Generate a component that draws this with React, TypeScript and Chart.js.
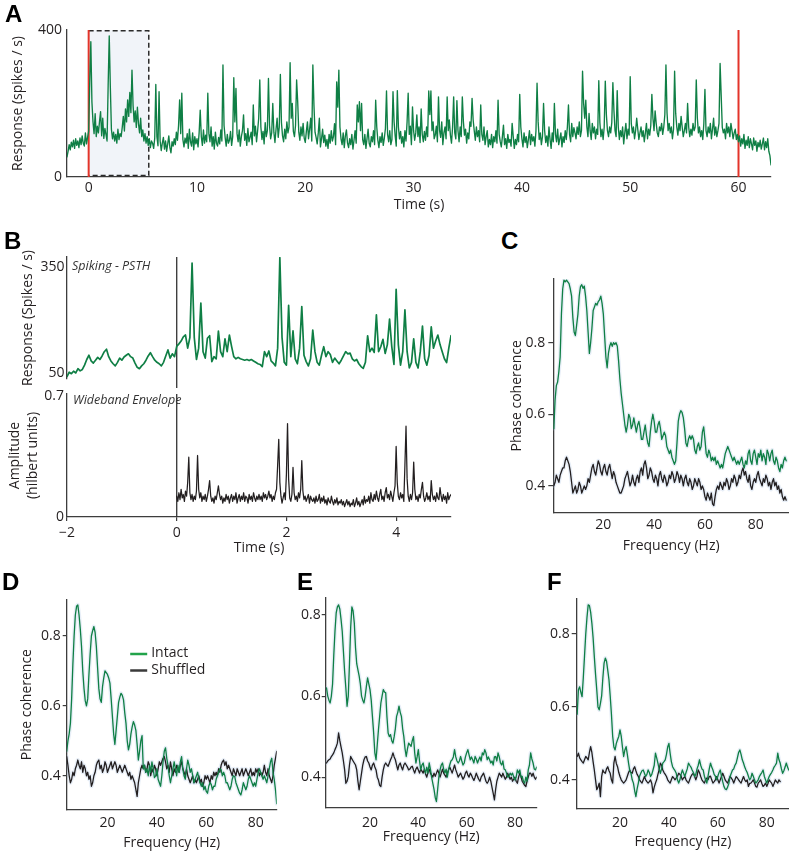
import React, { useEffect, useRef } from 'react';
import { Chart, registerables } from 'chart.js';

Chart.register(...registerables);

const FONT = "'Open Sans', 'Noto Sans', 'DejaVu Sans', sans-serif";
const FS = 14;
const INK = '#231f20';
const AXIS = '#3d3d3d';
const GREEN = '#0f7f45';
const BLACK = '#231f20';
const RED = '#e3342a';
const HALO = 'rgba(170,195,225,0.28)';
const LEGEND_COLORS: Record<string, string> = { Intact: '#22a34a', Shuffled: '#3a3a3a' };

Chart.defaults.font.family = FONT;
Chart.defaults.color = INK;

// ---------------- Panel A : full-trial PSTH ----------------
const A_START = -2;
const A_STEP = 0.1;
const A_RESPONSE = [
  55, 70, 88, 74, 95, 82, 100, 78, 104, 86,
  98, 80, 106, 88, 112, 92, 84, 120, 90, 108,
  125, 260, 368, 205, 150, 118, 172, 110, 138, 120,
  150, 178, 112, 160, 105, 132, 115, 98, 250, 384,
  246, 130, 104, 122, 98, 116, 92, 130, 102, 118,
  110, 135, 165, 125, 185, 150, 210, 165, 230, 175,
  291, 195, 150, 180, 135, 190, 145, 120, 160, 110,
  128, 98, 118, 92, 110, 86, 104, 80, 98, 92,
  78, 105, 252, 110, 85, 232, 98, 72, 92, 108,
  76, 98, 70, 90, 112, 80, 66, 96, 84, 104,
  88, 122, 100, 140, 210, 118, 228, 102, 82, 106,
  92, 118, 78, 130, 96, 84, 120, 74, 110, 90,
  104, 82, 120, 182, 110, 86, 128, 92, 114, 96,
  228, 118, 96, 136, 84, 110, 76, 122, 92, 84,
  108, 90, 128, 98, 305, 140, 108, 84, 116, 92,
  100, 124, 86, 110, 270, 150, 241, 118, 96, 128,
  84, 110, 126, 169, 100, 118, 86, 132, 96, 108,
  122, 88, 196, 112, 138, 96, 126, 160, 264, 136,
  102, 124, 90, 148, 110, 126, 268, 140, 104, 120,
  200, 122, 94, 130, 160, 108, 136, 279, 148, 112,
  96, 130, 104, 150, 120, 136, 311, 160, 200, 124,
  110, 140, 264, 205, 122, 100, 136, 112, 146, 106,
  94, 124, 150, 104, 130, 160, 98, 305, 196, 122,
  108, 90, 120, 160, 82, 104, 130, 94, 114, 84,
  102, 78, 116, 92, 126, 98, 110, 145, 88, 259,
  190, 291, 136, 104, 88, 120, 80, 112, 128, 92,
  80, 104, 88, 116, 76, 100, 126, 92, 196, 150,
  205, 126, 200, 102, 88, 116, 78, 104, 130, 92,
  82, 110, 96, 126, 88, 209, 136, 100, 80, 110,
  94, 120, 86, 106, 132, 234, 116, 96, 126, 88,
  102, 232, 150, 112, 84, 235, 136, 104, 124, 92,
  110, 82, 126, 98, 150, 228, 116, 138, 88, 191,
  126, 100, 120, 169, 110, 136, 94, 185, 116, 96,
  124, 100, 136, 110, 234, 170, 234, 126, 150, 104,
  114, 138, 96, 218, 126, 108, 150, 88, 120, 136,
  104, 218, 126, 155, 114, 92, 136, 218, 120, 104,
  208, 126, 96, 136, 110, 218, 150, 114, 130, 92,
  120, 104, 150, 138, 214, 155, 126, 100, 136, 110,
  126, 96, 196, 116, 100, 136, 88, 110, 126, 82,
  102, 88, 116, 80, 110, 96, 126, 92, 209, 116,
  96, 82, 110, 141, 88, 104, 78, 116, 94, 102,
  84, 146, 110, 78, 102, 88, 116, 96, 225, 136,
  104, 82, 120, 94, 110, 80, 102, 126, 88, 116,
  98, 110, 84, 126, 255, 150, 102, 120, 88, 110,
  200, 126, 94, 112, 84, 136, 102, 78, 120, 96,
  200, 116, 96, 130, 88, 104, 120, 82, 110, 94,
  126, 102, 136, 196, 116, 96, 146, 110, 134, 120,
  104, 136, 116, 150, 110, 126, 288, 200, 160, 209,
  136, 110, 173, 126, 102, 146, 120, 136, 104, 130,
  116, 262, 148, 110, 130, 102, 136, 261, 170, 126,
  110, 136, 120, 148, 257, 180, 126, 110, 235, 136,
  102, 126, 110, 136, 90, 120, 146, 104, 130, 114,
  273, 146, 120, 136, 104, 126, 160, 130, 102, 120,
  136, 110, 126, 96, 120, 146, 104, 130, 114, 140,
  225, 160, 126, 180, 146, 120, 110, 136, 126, 146,
  116, 136, 170, 305, 175, 126, 146, 120, 136, 104,
  130, 288, 173, 136, 114, 146, 126, 165, 136, 110,
  126, 146, 120, 200, 136, 110, 130, 114, 146, 126,
  136, 264, 160, 120, 136, 110, 126, 102, 146, 238,
  126, 110, 136, 120, 146, 104, 130, 160, 114, 136,
  110, 126, 146, 309, 223, 136, 120, 130, 104, 146,
  120, 136, 110, 146, 126, 104, 120, 130, 102, 116,
  96, 112, 84, 104, 90, 116, 78, 100, 86, 110,
  80, 104, 90, 74, 106, 86, 98, 70, 94, 82,
  100, 76, 90, 106, 74, 96, 80, 104, 70, 58,
  33,
];
const A_X_TICKS = [0, 10, 20, 30, 40, 50, 60];
const A_Y_TICKS = [0, 400];
const A_STIM_MARKS = [0, 60];
const A_WINDOW = [0, 5.55];

// ---------------- Panel B : zoomed PSTH and envelope ----------------
const B_PSTH_START = -2;
const B_PSTH_STEP = 0.04;
const B_PSTH = [
  40, 52, 48, 55, 50, 62, 56, 60, 72, 88, 100, 84, 78, 86, 94, 88, 98, 110, 117, 96, 84, 76, 70, 80, 92,
  86, 95, 100, 104, 96, 92, 78, 66, 62, 70, 76, 86, 98, 107, 96, 86, 80, 76, 70, 80, 98, 115, 92, 104, 96,
  125, 132, 140, 152, 157, 120, 150, 360, 150, 88, 120, 247, 110, 92, 148, 155, 82, 96, 90, 168, 110, 96, 146, 110, 157,
  125, 96, 90, 94, 90, 88, 86, 88, 85, 88, 84, 80, 76, 74, 68, 110, 96, 112, 84, 78, 70, 120, 375, 150, 80,
  72, 241, 96, 169, 90, 76, 120, 237, 100, 82, 70, 90, 171, 110, 80, 72, 100, 124, 96, 110, 102, 80, 92, 84, 76,
  86, 98, 110, 104, 106, 90, 84, 88, 76, 68, 63, 80, 155, 110, 120, 108, 214, 110, 124, 145, 105, 130, 202, 125, 74,
  286, 130, 72, 110, 228, 110, 64, 80, 146, 80, 64, 110, 182, 90, 72, 100, 180, 120, 140, 157, 130, 110, 90, 79, 120,
  155,
];
const B_ENV_START = 0;
const B_ENV_STEP = 0.02;
const B_ENV = [
  0.12, 0.09, 0.14, 0.10, 0.16, 0.11, 0.13, 0.09, 0.15, 0.12, 0.20, 0.345, 0.14, 0.10, 0.13, 0.09, 0.12, 0.10, 0.15, 0.355, 0.16, 0.11, 0.14, 0.09, 0.12,
  0.10, 0.13, 0.09, 0.12, 0.16, 0.21, 0.12, 0.09, 0.11, 0.08, 0.12, 0.10, 0.14, 0.18, 0.13, 0.10, 0.12, 0.08, 0.11, 0.09, 0.13, 0.10, 0.12, 0.08, 0.11,
  0.13, 0.09, 0.12, 0.10, 0.14, 0.08, 0.11, 0.13, 0.09, 0.12, 0.10, 0.14, 0.09, 0.12, 0.11, 0.08, 0.13, 0.10, 0.12, 0.09, 0.14, 0.11, 0.09, 0.12, 0.10,
  0.13, 0.10, 0.12, 0.09, 0.14, 0.11, 0.13, 0.10, 0.12, 0.15, 0.11, 0.13, 0.09, 0.12, 0.10, 0.14, 0.16, 0.30, 0.448, 0.20, 0.12, 0.08, 0.11, 0.14, 0.10,
  0.25, 0.539, 0.22, 0.11, 0.09, 0.13, 0.287, 0.14, 0.10, 0.12, 0.09, 0.14, 0.11, 0.16, 0.326, 0.15, 0.10, 0.12, 0.09, 0.11, 0.13, 0.08, 0.12, 0.10, 0.09,
  0.11, 0.08, 0.12, 0.09, 0.10, 0.13, 0.08, 0.11, 0.09, 0.12, 0.08, 0.10, 0.07, 0.11, 0.09, 0.08, 0.12, 0.09, 0.07, 0.10, 0.08, 0.11, 0.07, 0.09, 0.08,
  0.10, 0.07, 0.09, 0.06, 0.08, 0.10, 0.07, 0.09, 0.06, 0.08, 0.07, 0.10, 0.06, 0.08, 0.11, 0.07, 0.09, 0.06, 0.08, 0.10, 0.07, 0.12, 0.08, 0.10, 0.09,
  0.12, 0.08, 0.14, 0.10, 0.09, 0.13, 0.10, 0.15, 0.11, 0.09, 0.13, 0.16, 0.10, 0.12, 0.09, 0.14, 0.17, 0.11, 0.13, 0.10, 0.15, 0.12, 0.09, 0.14, 0.18,
  0.407, 0.20, 0.12, 0.10, 0.14, 0.11, 0.13, 0.09, 0.30, 0.524, 0.22, 0.12, 0.09, 0.13, 0.10, 0.14, 0.317, 0.16, 0.10, 0.12, 0.09, 0.13, 0.11, 0.16, 0.20,
  0.12, 0.09, 0.11, 0.14, 0.10, 0.12, 0.09, 0.21, 0.13, 0.10, 0.12, 0.09, 0.14, 0.11, 0.10, 0.17, 0.12, 0.09, 0.13, 0.10, 0.12, 0.08, 0.14, 0.10, 0.12,
  0.13,
];
const B_X_TICKS = [-2, 0, 2, 4];
const B_PSTH_TICKS = [50, 350];
const B_ENV_TICKS = [0, 0.7];
const B_ONSET = 0;

// ---------------- Panels C–F : phase coherence spectra ----------------
const SERIES = ['Intact', 'Shuffled'];
const FREQ_STEP = 0.5;
const FREQ_TICKS = [20, 40, 60, 80];
const COH_TICKS = [0.4, 0.6, 0.8];

const C_START = 0.5;
const C_INTACT = [
  0.56, 0.64, 0.68, 0.69, 0.72, 0.76, 0.88, 0.95, 0.975, 0.97,
  0.975, 0.97, 0.965, 0.95, 0.93, 0.87, 0.83, 0.82, 0.85, 0.88,
  0.93, 0.957, 0.962, 0.952, 0.958, 0.93, 0.89, 0.83, 0.77, 0.80,
  0.84, 0.89, 0.90, 0.91, 0.905, 0.915, 0.92, 0.93, 0.91, 0.88,
  0.82, 0.76, 0.73, 0.77, 0.79, 0.80, 0.79, 0.80, 0.795, 0.80,
  0.79, 0.75, 0.70, 0.66, 0.63, 0.60, 0.57, 0.55, 0.57, 0.60,
  0.59, 0.56, 0.57, 0.59, 0.57, 0.55, 0.57, 0.58, 0.56, 0.53,
  0.53, 0.55, 0.57, 0.54, 0.52, 0.51, 0.55, 0.58, 0.60, 0.58,
  0.55, 0.55, 0.57, 0.58, 0.56, 0.53, 0.54, 0.55, 0.54, 0.51,
  0.50, 0.49, 0.50, 0.48, 0.47, 0.46, 0.47, 0.52, 0.58, 0.60,
  0.61, 0.605, 0.59, 0.56, 0.52, 0.51, 0.53, 0.54, 0.53, 0.54,
  0.53, 0.50, 0.49, 0.51, 0.52, 0.50, 0.51, 0.55, 0.565, 0.53,
  0.49, 0.48, 0.50, 0.49, 0.47, 0.48, 0.47, 0.48, 0.46, 0.47,
  0.46, 0.45, 0.46, 0.45, 0.47, 0.49, 0.50, 0.51, 0.50, 0.49,
  0.48, 0.47, 0.48, 0.47, 0.46, 0.47, 0.46, 0.47, 0.48, 0.46,
  0.45, 0.47, 0.46, 0.49, 0.50, 0.47, 0.46, 0.49, 0.50, 0.48,
  0.46, 0.49, 0.48, 0.50, 0.47, 0.49, 0.48, 0.46, 0.50, 0.49,
  0.47, 0.49, 0.50, 0.47, 0.46, 0.48, 0.47, 0.45, 0.44, 0.46,
  0.45, 0.47, 0.48, 0.47,
];
const C_SHUFFLED = [
  0.40, 0.41, 0.43, 0.42, 0.41, 0.43, 0.44, 0.45, 0.45, 0.47,
  0.48, 0.47, 0.46, 0.44, 0.41, 0.38, 0.39, 0.40, 0.38, 0.39,
  0.41, 0.40, 0.38, 0.39, 0.40, 0.39, 0.40, 0.42, 0.41, 0.43,
  0.45, 0.46, 0.44, 0.43, 0.45, 0.47, 0.46, 0.44, 0.43, 0.45,
  0.46, 0.44, 0.43, 0.45, 0.46, 0.44, 0.42, 0.44, 0.43, 0.41,
  0.40, 0.39, 0.38, 0.38, 0.39, 0.40, 0.42, 0.43, 0.44, 0.42,
  0.40, 0.41, 0.43, 0.41, 0.40, 0.42, 0.43, 0.41, 0.44, 0.45,
  0.43, 0.46, 0.47, 0.45, 0.42, 0.43, 0.45, 0.44, 0.42, 0.41,
  0.43, 0.42, 0.40, 0.43, 0.44, 0.42, 0.41, 0.43, 0.42, 0.40,
  0.41, 0.43, 0.42, 0.44, 0.43, 0.41, 0.42, 0.44, 0.43, 0.41,
  0.43, 0.42, 0.40, 0.42, 0.43, 0.41, 0.40, 0.42, 0.41, 0.39,
  0.40, 0.42, 0.41, 0.40, 0.42, 0.41, 0.39, 0.40, 0.39, 0.37,
  0.36, 0.38, 0.37, 0.36, 0.38, 0.35, 0.345, 0.37, 0.39, 0.40,
  0.39, 0.41, 0.40, 0.39, 0.41, 0.40, 0.42, 0.41, 0.39, 0.40,
  0.42, 0.41, 0.43, 0.42, 0.40, 0.41, 0.43, 0.42, 0.44, 0.45,
  0.43, 0.44, 0.42, 0.41, 0.43, 0.40, 0.39, 0.41, 0.42, 0.41,
  0.43, 0.44, 0.42, 0.41, 0.40, 0.42, 0.41, 0.43, 0.42, 0.40,
  0.41, 0.39, 0.41, 0.42, 0.40, 0.41, 0.39, 0.40, 0.38, 0.39,
  0.37, 0.36, 0.37, 0.36,
];

const D_START = 3.5;
const D_INTACT = [
  0.47, 0.50, 0.52, 0.55, 0.62, 0.72, 0.80, 0.86, 0.885, 0.889,
  0.86, 0.82, 0.77, 0.70, 0.65, 0.615, 0.60, 0.62, 0.69, 0.75,
  0.80, 0.815, 0.827, 0.81, 0.77, 0.71, 0.65, 0.62, 0.61, 0.655,
  0.68, 0.70, 0.695, 0.69, 0.68, 0.665, 0.62, 0.57, 0.52, 0.49,
  0.53, 0.57, 0.61, 0.625, 0.636, 0.63, 0.617, 0.58, 0.55, 0.50,
  0.474, 0.49, 0.52, 0.54, 0.555, 0.545, 0.53, 0.49, 0.445, 0.47,
  0.50, 0.515, 0.42, 0.43, 0.41, 0.42, 0.40, 0.43, 0.41, 0.44,
  0.42, 0.395, 0.40, 0.42, 0.39, 0.38, 0.37, 0.40, 0.44, 0.47,
  0.48, 0.45, 0.43, 0.40, 0.38, 0.40, 0.42, 0.44, 0.42, 0.40,
  0.43, 0.41, 0.44, 0.455, 0.42, 0.40, 0.39, 0.42, 0.445, 0.43,
  0.41, 0.42, 0.40, 0.38, 0.39, 0.40, 0.41, 0.39, 0.38, 0.37,
  0.38, 0.36, 0.37, 0.355, 0.35, 0.37, 0.38, 0.375, 0.36, 0.37,
  0.37, 0.39, 0.40, 0.41, 0.42, 0.417, 0.40, 0.41, 0.40, 0.38,
  0.38, 0.37, 0.36, 0.37, 0.39, 0.40, 0.398, 0.38, 0.37, 0.36,
  0.35, 0.345, 0.36, 0.38, 0.37, 0.36, 0.37, 0.39, 0.40, 0.39,
  0.38, 0.37, 0.38, 0.37, 0.39, 0.41, 0.42, 0.41, 0.40, 0.39,
  0.40, 0.39, 0.38, 0.40, 0.42, 0.44, 0.45, 0.41, 0.39, 0.36,
  0.32,
];
const D_SHUFFLED = [
  0.455, 0.43, 0.40, 0.38, 0.39, 0.41, 0.40, 0.42, 0.43, 0.445,
  0.43, 0.42, 0.44, 0.41, 0.43, 0.42, 0.40, 0.41, 0.39, 0.40,
  0.37, 0.38, 0.40, 0.41, 0.43, 0.44, 0.445, 0.42, 0.43, 0.41,
  0.42, 0.44, 0.43, 0.41, 0.42, 0.43, 0.44, 0.42, 0.43, 0.44,
  0.43, 0.41, 0.42, 0.43, 0.42, 0.41, 0.42, 0.43, 0.42, 0.41,
  0.40, 0.41, 0.39, 0.40, 0.39, 0.38, 0.36, 0.341, 0.38, 0.40,
  0.42, 0.43, 0.42, 0.43, 0.41, 0.42, 0.44, 0.43, 0.40, 0.42,
  0.41, 0.43, 0.42, 0.40, 0.42, 0.44, 0.43, 0.44, 0.45, 0.455,
  0.44, 0.42, 0.43, 0.41, 0.44, 0.42, 0.40, 0.42, 0.41, 0.43,
  0.42, 0.41, 0.43, 0.44, 0.42, 0.41, 0.40, 0.42, 0.40, 0.39,
  0.38, 0.39, 0.40, 0.38, 0.39, 0.38, 0.39, 0.40, 0.38, 0.39,
  0.37, 0.38, 0.40, 0.39, 0.40, 0.39, 0.38, 0.40, 0.39, 0.41,
  0.40, 0.41, 0.40, 0.42, 0.41, 0.43, 0.44, 0.445, 0.43, 0.44,
  0.42, 0.43, 0.42, 0.41, 0.40, 0.42, 0.41, 0.40, 0.42, 0.41,
  0.40, 0.41, 0.42, 0.40, 0.41, 0.42, 0.41, 0.40, 0.41, 0.42,
  0.40, 0.41, 0.40, 0.42, 0.41, 0.42, 0.40, 0.41, 0.40, 0.41,
  0.43, 0.41, 0.40, 0.42, 0.40, 0.39, 0.38, 0.40, 0.43, 0.45,
  0.47,
];

const E_START = 2.0;
const E_INTACT = [
  0.62, 0.60, 0.59, 0.583, 0.60, 0.63, 0.70, 0.76, 0.805, 0.82,
  0.825, 0.815, 0.79, 0.76, 0.71, 0.66, 0.62, 0.575, 0.60, 0.68,
  0.77, 0.82, 0.81, 0.78, 0.72, 0.68, 0.665, 0.65, 0.63, 0.60,
  0.59, 0.583, 0.60, 0.624, 0.645, 0.63, 0.616, 0.59, 0.55, 0.51,
  0.46, 0.443, 0.48, 0.517, 0.55, 0.583, 0.60, 0.616, 0.61, 0.608,
  0.55, 0.509, 0.50, 0.505, 0.49, 0.484, 0.50, 0.52, 0.55, 0.56,
  0.575, 0.56, 0.55, 0.52, 0.50, 0.47, 0.451, 0.47, 0.484, 0.48,
  0.476, 0.49, 0.50, 0.46, 0.435, 0.45, 0.468, 0.44, 0.418, 0.43,
  0.435, 0.42, 0.41, 0.425, 0.41, 0.435, 0.42, 0.40, 0.385, 0.37,
  0.35, 0.34, 0.37, 0.40, 0.418, 0.43, 0.435, 0.42, 0.41, 0.42,
  0.40, 0.418, 0.43, 0.44, 0.443, 0.45, 0.468, 0.45, 0.44, 0.435,
  0.44, 0.451, 0.44, 0.43, 0.435, 0.45, 0.46, 0.468, 0.455, 0.443,
  0.45, 0.443, 0.435, 0.451, 0.445, 0.435, 0.443, 0.45, 0.44, 0.46,
  0.455, 0.468, 0.46, 0.443, 0.45, 0.443, 0.435, 0.44, 0.43, 0.45,
  0.451, 0.44, 0.46, 0.45, 0.435, 0.43, 0.44, 0.42, 0.418, 0.41,
  0.40, 0.402, 0.41, 0.405, 0.41, 0.40, 0.393, 0.40, 0.418, 0.41,
  0.418, 0.40, 0.402, 0.39, 0.385, 0.40, 0.39, 0.418, 0.43, 0.46,
  0.445, 0.435, 0.42, 0.418, 0.425,
];
const E_SHUFFLED = [
  0.435, 0.44, 0.443, 0.445, 0.451, 0.455, 0.46, 0.468, 0.475, 0.484,
  0.509, 0.49, 0.475, 0.46, 0.44, 0.418, 0.385, 0.39, 0.402, 0.43,
  0.451, 0.445, 0.44, 0.435, 0.43, 0.418, 0.39, 0.369, 0.39, 0.41,
  0.43, 0.443, 0.45, 0.451, 0.44, 0.435, 0.425, 0.418, 0.43, 0.435,
  0.425, 0.418, 0.40, 0.393, 0.38, 0.377, 0.40, 0.418, 0.43, 0.435,
  0.43, 0.427, 0.435, 0.443, 0.45, 0.46, 0.45, 0.443, 0.43, 0.418,
  0.43, 0.435, 0.425, 0.418, 0.43, 0.435, 0.43, 0.425, 0.418, 0.42,
  0.425, 0.427, 0.418, 0.41, 0.42, 0.425, 0.418, 0.41, 0.42, 0.415,
  0.41, 0.42, 0.408, 0.40, 0.412, 0.42, 0.41, 0.405, 0.40, 0.41,
  0.402, 0.41, 0.418, 0.41, 0.40, 0.41, 0.42, 0.41, 0.405, 0.40,
  0.41, 0.418, 0.425, 0.418, 0.41, 0.42, 0.43, 0.418, 0.41, 0.40,
  0.405, 0.41, 0.402, 0.395, 0.40, 0.41, 0.415, 0.405, 0.40, 0.41,
  0.405, 0.398, 0.392, 0.40, 0.41, 0.402, 0.395, 0.39, 0.40, 0.405,
  0.41, 0.40, 0.39, 0.385, 0.39, 0.40, 0.39, 0.375, 0.36, 0.344,
  0.37, 0.39, 0.40, 0.41, 0.405, 0.40, 0.41, 0.402, 0.395, 0.40,
  0.41, 0.402, 0.395, 0.40, 0.39, 0.395, 0.40, 0.39, 0.385, 0.40,
  0.41, 0.402, 0.39, 0.385, 0.38, 0.377, 0.39, 0.40, 0.41, 0.41,
  0.402, 0.41, 0.40, 0.395, 0.40,
];

const F_START = 2.5;
const F_INTACT = [
  0.58, 0.647, 0.655, 0.64, 0.628, 0.68, 0.74, 0.80, 0.845, 0.88,
  0.878, 0.86, 0.83, 0.79, 0.738, 0.69, 0.647, 0.60, 0.592, 0.61,
  0.63, 0.68, 0.72, 0.734, 0.725, 0.70, 0.674, 0.63, 0.58, 0.52,
  0.49, 0.482, 0.50, 0.51, 0.519, 0.537, 0.52, 0.49, 0.464, 0.482,
  0.491, 0.47, 0.446, 0.425, 0.418, 0.40, 0.391, 0.37, 0.354, 0.375,
  0.391, 0.41, 0.418, 0.425, 0.427, 0.418, 0.409, 0.415, 0.427, 0.42,
  0.409, 0.415, 0.427, 0.44, 0.473, 0.46, 0.446, 0.43, 0.418, 0.43,
  0.446, 0.45, 0.455, 0.47, 0.49, 0.50, 0.473, 0.45, 0.436, 0.43,
  0.425, 0.418, 0.40, 0.391, 0.40, 0.415, 0.427, 0.418, 0.409, 0.42,
  0.43, 0.446, 0.44, 0.435, 0.427, 0.42, 0.409, 0.415, 0.43, 0.44,
  0.455, 0.44, 0.43, 0.427, 0.41, 0.40, 0.391, 0.41, 0.43, 0.446,
  0.435, 0.427, 0.415, 0.41, 0.40, 0.41, 0.42, 0.427, 0.41, 0.395,
  0.382, 0.375, 0.373, 0.38, 0.39, 0.409, 0.418, 0.427, 0.43, 0.44,
  0.446, 0.46, 0.475, 0.482, 0.47, 0.455, 0.446, 0.435, 0.427, 0.42,
  0.41, 0.40, 0.405, 0.418, 0.41, 0.40, 0.391, 0.395, 0.40, 0.409,
  0.415, 0.42, 0.427, 0.41, 0.40, 0.391, 0.40, 0.409, 0.415, 0.42,
  0.427, 0.435, 0.44, 0.446, 0.473, 0.455, 0.446, 0.43, 0.418, 0.425,
  0.435, 0.446, 0.435, 0.427,
];
const F_SHUFFLED = [
  0.464, 0.473, 0.46, 0.455, 0.45, 0.446, 0.455, 0.464, 0.46, 0.455,
  0.475, 0.491, 0.475, 0.45, 0.427, 0.40, 0.373, 0.38, 0.391, 0.354,
  0.409, 0.427, 0.42, 0.418, 0.43, 0.436, 0.425, 0.418, 0.40, 0.391,
  0.446, 0.464, 0.445, 0.436, 0.42, 0.409, 0.40, 0.395, 0.391, 0.395,
  0.40, 0.41, 0.42, 0.427, 0.42, 0.418, 0.43, 0.436, 0.425, 0.415,
  0.409, 0.40, 0.395, 0.391, 0.40, 0.409, 0.40, 0.395, 0.391, 0.395,
  0.40, 0.39, 0.364, 0.38, 0.391, 0.40, 0.415, 0.427, 0.446, 0.44,
  0.427, 0.42, 0.415, 0.409, 0.40, 0.395, 0.391, 0.40, 0.409, 0.405,
  0.40, 0.405, 0.41, 0.418, 0.415, 0.41, 0.40, 0.405, 0.409, 0.40,
  0.395, 0.391, 0.40, 0.409, 0.415, 0.418, 0.41, 0.40, 0.41, 0.427,
  0.42, 0.409, 0.40, 0.395, 0.391, 0.40, 0.405, 0.40, 0.409, 0.41,
  0.40, 0.391, 0.395, 0.40, 0.409, 0.40, 0.391, 0.40, 0.409, 0.418,
  0.41, 0.40, 0.395, 0.391, 0.40, 0.409, 0.405, 0.40, 0.391, 0.40,
  0.409, 0.405, 0.40, 0.395, 0.391, 0.40, 0.409, 0.40, 0.395, 0.40,
  0.382, 0.39, 0.391, 0.395, 0.40, 0.391, 0.382, 0.38, 0.391, 0.395,
  0.40, 0.39, 0.382, 0.385, 0.391, 0.382, 0.39, 0.40, 0.395, 0.391,
  0.382, 0.39, 0.40, 0.395, 0.391, 0.40, 0.395,
];

// ---------------- helpers ----------------
type XY = { x: number; y: number };
const toXY = (start: number, step: number, values: number[]): XY[] =>
  values.map((y, i) => ({ x: Math.round((start + i * step) * 1000) / 1000, y }));

const fmtTick = (v: any) => String(v).replace('-', '\u2212');

interface AxisSpec {
  min: number;
  max: number;
  ticks: number[];
  size: number;
  tickLength: number;
  padding: number;
  title?: string | string[];
  titlePad?: number;
  titleLineHeight?: number;
  display?: boolean;
}

function makeScale(axis: 'x' | 'y', s: AxisSpec) {
  const showTicks = s.tickLength > 0;
  return {
    type: 'linear',
    position: axis === 'x' ? 'bottom' : 'left',
    display: s.display !== false,
    min: s.min,
    max: s.max,
    bounds: 'data',
    afterFit: (sc: any) => {
      if (axis === 'x') sc.height = s.size;
      else sc.width = s.size;
    },
    afterBuildTicks: (sc: any) => {
      sc.ticks = s.ticks.map((v) => ({ value: v }));
    },
    border: { display: true, color: AXIS, width: 1.3 },
    grid: {
      display: showTicks,
      drawOnChartArea: false,
      drawTicks: showTicks,
      tickLength: s.tickLength,
      color: AXIS,
      lineWidth: 1.2,
    },
    ticks: {
      autoSkip: false,
      maxRotation: 0,
      minRotation: 0,
      padding: s.padding,
      color: INK,
      font: { family: FONT, size: FS },
      callback: (v: any) => fmtTick(v),
    },
    title: s.title
      ? {
          display: true,
          text: s.title,
          color: INK,
          font: { family: FONT, size: FS, lineHeight: s.titleLineHeight ?? 1.2 },
          padding: axis === 'x' ? { top: 0, bottom: s.titlePad ?? 0 } : { top: s.titlePad ?? 0, bottom: 0 },
        }
      : { display: false },
  };
}

interface PanelSpec {
  key: string;
  left: number;
  top: number;
  width: number;
  height: number;
  pad: { top: number; right: number; bottom: number };
  x: AxisSpec;
  y: AxisSpec;
  datasets: () => any[];
  decor?: (c: any) => void;
  overlay?: (c: any) => void;
}

function lineSet(data: XY[], color: string, width: number, label?: string) {
  return {
    label,
    data,
    borderColor: color,
    backgroundColor: color,
    borderWidth: width,
    pointRadius: 0,
    fill: false,
  };
}

function coherenceSets(start: number, intact: number[], shuffled: number[]) {
  const a = toXY(start, FREQ_STEP, intact);
  const b = toXY(start, FREQ_STEP, shuffled);
  return [
    lineSet(a, GREEN, 1.3, SERIES[0]),
    lineSet(b, BLACK, 1.3, SERIES[1]),
    lineSet(a, HALO, 4),
    lineSet(b, HALO, 4),
  ];
}

function onsetLine(extendBottom: number) {
  return (c: any) => {
    const { ctx, chartArea, scales } = c;
    const px = scales.x.getPixelForValue(B_ONSET);
    ctx.save();
    ctx.strokeStyle = '#333333';
    ctx.lineWidth = 1.3;
    ctx.beginPath();
    ctx.moveTo(px, chartArea.top);
    ctx.lineTo(px, chartArea.bottom + extendBottom);
    ctx.stroke();
    ctx.restore();
  };
}

function italicNote(text: string, dx: number, dy: number) {
  return (c: any) => {
    const { ctx, chartArea } = c;
    ctx.save();
    ctx.font = `italic 12.5px ${FONT}`;
    ctx.fillStyle = '#333333';
    ctx.textBaseline = 'middle';
    ctx.textAlign = 'left';
    ctx.fillText(text, chartArea.left + dx, chartArea.top + dy);
    ctx.restore();
  };
}

const coherenceY = (min: number, max: number, size: number, tl: number, pad: number, title?: string, titlePad?: number): AxisSpec => ({
  min, max, ticks: COH_TICKS, size, tickLength: tl, padding: pad, title, titlePad,
});
const freqX = (min: number, max: number, size: number, pad: number, titlePad: number): AxisSpec => ({
  min, max, ticks: FREQ_TICKS, size, tickLength: 0, padding: pad, title: 'Frequency (Hz)', titlePad,
});

const PANELS: PanelSpec[] = [
  {
    key: 'A',
    left: 0, top: 0, width: 789, height: 215,
    pad: { top: 30, right: 18, bottom: 0 },
    x: { min: -2, max: 63, ticks: A_X_TICKS, size: 38, tickLength: 0, padding: 2.6, title: 'Time (s)', titlePad: 1.6 },
    y: { min: 0, max: 400, ticks: A_Y_TICKS, size: 67, tickLength: 0, padding: 5, title: 'Response (spikes / s)', titlePad: 9.4 },
    datasets: () => [lineSet(toXY(A_START, A_STEP, A_RESPONSE), GREEN, 1.35)],
    decor: (c: any) => {
      const { ctx, scales } = c;
      const { x, y } = scales;
      const yT = y.getPixelForValue(A_Y_TICKS[1]);
      const yB = y.getPixelForValue(A_Y_TICKS[0]);
      const x0 = x.getPixelForValue(A_WINDOW[0]);
      const x1 = x.getPixelForValue(A_WINDOW[1]);
      ctx.save();
      ctx.fillStyle = '#f1f4f9';
      ctx.fillRect(x0, yT, x1 - x0, yB - yT - 1);
      ctx.setLineDash([5, 3]);
      ctx.strokeStyle = '#2b2b2b';
      ctx.lineWidth = 1.5;
      ctx.beginPath();
      ctx.moveTo(x0, yT + 0.75);
      ctx.lineTo(x1, yT + 0.75);
      ctx.lineTo(x1, yB - 1.5);
      ctx.lineTo(x0, yB - 1.5);
      ctx.stroke();
      ctx.setLineDash([]);
      ctx.strokeStyle = RED;
      ctx.lineWidth = 2;
      A_STIM_MARKS.forEach((t) => {
        const px = x.getPixelForValue(t);
        ctx.beginPath();
        ctx.moveTo(px, yT);
        ctx.lineTo(px, yB);
        ctx.stroke();
      });
      ctx.restore();
    },
  },
  {
    key: 'Btop',
    left: 0, top: 240, width: 470, height: 150,
    pad: { top: 17, right: 19, bottom: 11 },
    x: { min: -2, max: 5, ticks: [], size: 0, tickLength: 0, padding: 0, display: false },
    y: { min: 33, max: 377, ticks: B_PSTH_TICKS, size: 67, tickLength: 0, padding: 2.5, title: 'Response (Spikes / s)', titlePad: 19.4 },
    datasets: () => [lineSet(toXY(B_PSTH_START, B_PSTH_STEP, B_PSTH), GREEN, 1.7)],
    decor: (c: any) => {
      onsetLine(9)(c);
      italicNote('Spiking - PSTH', 5, 9)(c);
    },
  },
  {
    key: 'Bbottom',
    left: 0, top: 380, width: 470, height: 176,
    pad: { top: 14, right: 19, bottom: 0 },
    x: { min: -2, max: 5, ticks: B_X_TICKS, size: 39, tickLength: 4, padding: 3.6, title: 'Time (s)', titlePad: 0 },
    y: { min: 0, max: 0.71, ticks: B_ENV_TICKS, size: 67, tickLength: 0, padding: 3, title: ['Amplitude', '(hilbert units)'], titlePad: 5.7, titleLineHeight: 1.3 },
    datasets: () => [lineSet(toXY(B_ENV_START, B_ENV_STEP, B_ENV), BLACK, 1.25)],
    decor: (c: any) => {
      onsetLine(0)(c);
      italicNote('Wideband Envelope', 6, 6)(c);
    },
  },
  {
    key: 'C',
    left: 480, top: 262, width: 309, height: 292,
    pad: { top: 17, right: 0, bottom: 0 },
    x: freqX(0.3, 93.1, 41.3, 3.9, 0),
    y: coherenceY(0.325, 0.978, 73.3, 5, 3, 'Phase coherence', 28.6),
    datasets: () => coherenceSets(C_START, C_INTACT, C_SHUFFLED),
  },
  {
    key: 'D',
    left: 0, top: 585, width: 290, height: 268,
    pad: { top: 15, right: 13.3, bottom: 0 },
    x: freqX(3.5, 88.5, 43.7, 5.6, 1.6),
    y: coherenceY(0.304, 0.903, 66.7, 4, 2, 'Phase coherence', 18.6),
    datasets: () => coherenceSets(D_START, D_INTACT, D_SHUFFLED),
    overlay: (c: any) => {
      const { ctx, chartArea } = c;
      const x0 = chartArea.left + 63.5;
      const y0 = chartArea.top + 54;
      ctx.save();
      ctx.font = `14px ${FONT}`;
      ctx.textBaseline = 'middle';
      ctx.textAlign = 'left';
      c.data.datasets
        .filter((d: any) => d.label)
        .forEach((d: any, i: number) => {
          const yy = y0 + i * 16.5;
          ctx.strokeStyle = LEGEND_COLORS[d.label] || d.borderColor;
          ctx.lineWidth = 2.5;
          ctx.beginPath();
          ctx.moveTo(x0, yy);
          ctx.lineTo(x0 + 17, yy);
          ctx.stroke();
          ctx.fillStyle = INK;
          ctx.fillText(d.label, x0 + 21, yy - 0.5);
        });
      ctx.restore();
    },
  },
  {
    key: 'E',
    left: 280, top: 585, width: 265, height: 261,
    pad: { top: 13, right: 8.3, bottom: 0 },
    x: freqX(1.66, 89, 38, 6.9, 0.9),
    y: coherenceY(0.324, 0.842, 45.7, 4, 1),
    datasets: () => coherenceSets(E_START, E_INTACT, E_SHUFFLED),
  },
  {
    key: 'F',
    left: 545, top: 585, width: 244, height: 266,
    pad: { top: 14, right: 0, bottom: 0 },
    x: freqX(2.3, 89.1, 42, 5.9, 0.9),
    y: coherenceY(0.32, 0.896, 31.7, 5, 2),
    datasets: () => coherenceSets(F_START, F_INTACT, F_SHUFFLED),
  },
];

const LETTERS = [
  { t: 'A', left: 5, top: 2 },
  { t: 'B', left: 4, top: 229 },
  { t: 'C', left: 501, top: 229 },
  { t: 'D', left: 2, top: 570 },
  { t: 'E', left: 297, top: 570 },
  { t: 'F', left: 547, top: 570 },
];

function ChartPanel({ spec }: { spec: PanelSpec }) {
  const ref = useRef<HTMLCanvasElement | null>(null);
  useEffect(() => {
    if (!ref.current) return;
    const chart = new Chart(ref.current, {
      type: 'line',
      data: { datasets: spec.datasets() },
      options: {
        animation: false,
        responsive: true,
        maintainAspectRatio: false,
        devicePixelRatio: 1,
        events: [],
        layout: { padding: { left: 0, top: spec.pad.top, right: spec.pad.right, bottom: spec.pad.bottom } },
        plugins: { legend: { display: false }, tooltip: { enabled: false }, title: { display: false } },
        elements: {
          point: { radius: 0, hitRadius: 0, hoverRadius: 0 },
          line: { tension: 0, borderJoinStyle: 'round', borderCapStyle: 'round' },
        },
        scales: { x: makeScale('x', spec.x), y: makeScale('y', spec.y) },
      } as any,
      plugins: [
        {
          id: 'decor' + spec.key,
          beforeDatasetsDraw: (c: any) => {
            if (spec.decor) spec.decor(c);
          },
          afterDatasetsDraw: (c: any) => {
            if (spec.overlay) spec.overlay(c);
          },
        },
      ],
    } as any);
    return () => chart.destroy();
  }, [spec]);
  return (
    <div style={{ position: 'absolute', left: spec.left, top: spec.top, width: spec.width, height: spec.height }}>
      <canvas ref={ref} />
    </div>
  );
}

export default function App() {
  return (
    <div
      style={{
        position: 'absolute',
        left: 0,
        top: 0,
        width: 789,
        height: 853,
        background: '#ffffff',
        overflow: 'hidden',
      }}
    >
      {PANELS.map((p) => (
        <ChartPanel key={p.key} spec={p} />
      ))}
      {LETTERS.map((l) => (
        <div
          key={l.t}
          style={{
            position: 'absolute',
            left: l.left,
            top: l.top,
            fontFamily: "'Liberation Sans', Arial, sans-serif",
            fontWeight: 700,
            fontSize: 24,
            lineHeight: '24px',
            color: '#000',
          }}
        >
          {l.t}
        </div>
      ))}
    </div>
  );
}
